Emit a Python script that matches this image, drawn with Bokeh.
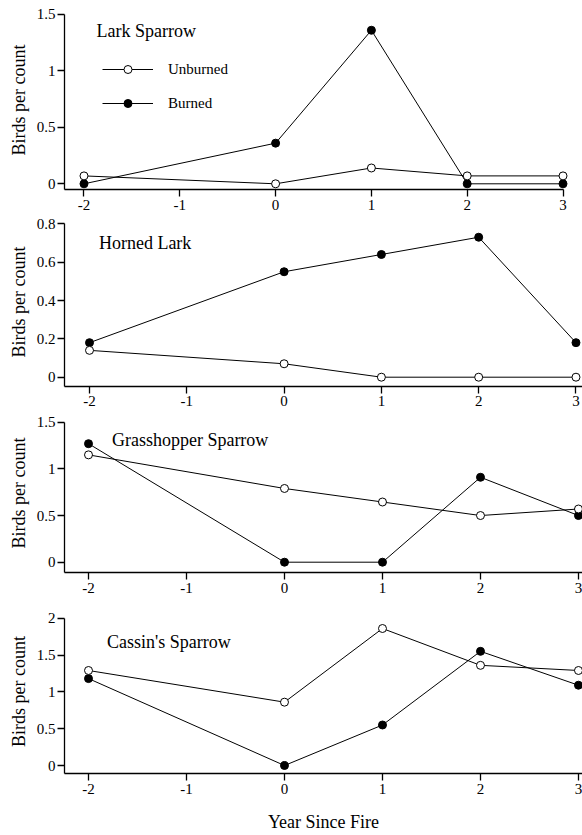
from bokeh.plotting import figure
from bokeh.layouts import column
from bokeh.models import Range1d, FixedTicker, NumeralTickFormatter, Label, Legend, LegendItem
from bokeh.embed import file_html
from bokeh.resources import INLINE

# ---- data ----
years = [-2, 0, 1, 2, 3]
x_ticks = [-2, -1, 0, 1, 2, 3]
species = ["Lark Sparrow", "Horned Lark", "Grasshopper Sparrow", "Cassin's Sparrow"]
lark_sparrow_unburned = [0.07, 0.0, 0.14, 0.07, 0.07]
lark_sparrow_burned = [0.0, 0.36, 1.36, 0.0, 0.0]
horned_lark_unburned = [0.14, 0.07, 0.0, 0.0, 0.0]
horned_lark_burned = [0.18, 0.55, 0.64, 0.73, 0.18]
grasshopper_unburned = [1.15, 0.79, 0.645, 0.5, 0.57]
grasshopper_burned = [1.27, 0.0, 0.0, 0.91, 0.50]
cassins_unburned = [1.29, 0.86, 1.86, 1.36, 1.29]
cassins_burned = [1.18, 0.0, 0.55, 1.55, 1.09]
y_ticks = [[0, 0.5, 1, 1.5], [0, 0.2, 0.4, 0.6, 0.8], [0, 0.5, 1, 1.5], [0, 0.5, 1, 1.5, 2]]
y_label = "Birds per count"
x_label = "Year Since Fire"
legend_labels = ["Unburned", "Burned"]

unburned = [lark_sparrow_unburned, horned_lark_unburned, grasshopper_unburned, cassins_unburned]
burned = [lark_sparrow_burned, horned_lark_burned, grasshopper_burned, cassins_burned]

# ---- layout/style per panel ----
FONT = "Liberation Serif"
heights = [217, 196, 196, 226]
borders_top = [10, 0, 0, 0]
borders_bottom = [28, 27, 37, 62]
x_standoff = [3, 2, 3, 3]
x_ranges = [(-2.2035, 3.2035), (-2.257, 3.067), (-2.245, 3.041), (-2.245, 3.041)]
y_ranges = [(-0.0505, 1.535), (-0.0485, 0.8329), (-0.1104, 1.5933), (-0.1086, 2.118)]
x_bound_end = [3, None, None, None]
title_pos = [(32, 159), (34.4, 143.3), (47.4, 132.4), (42.5, 131.3)]

panels = []
for i in range(4):
    xr = x_ranges[i]
    yr = y_ranges[i]
    p = figure(width=582, height=heights[i], output_backend="svg", toolbar_location=None,
               tools="", x_range=Range1d(*xr), y_range=Range1d(*yr),
               min_border_left=64, min_border_right=0,
               min_border_top=borders_top[i], min_border_bottom=borders_bottom[i])
    p.outline_line_color = None
    p.xgrid.visible = False
    p.ygrid.visible = False
    p.background_fill_color = "white"
    p.border_fill_color = "white"

    for ax in (p.xaxis[0], p.yaxis[0]):
        ax.axis_line_width = 1.3
        ax.axis_line_color = "black"
        ax.major_tick_line_width = 1.3
        ax.major_tick_line_color = "black"
        ax.major_tick_in = 0
        ax.major_tick_out = 7
        ax.minor_tick_line_color = None
        ax.major_label_text_font = FONT
        ax.major_label_text_font_size = "15px"
        ax.major_label_text_color = "black"
        ax.axis_label_text_font = FONT
        ax.axis_label_text_font_size = "18px"
        ax.axis_label_text_font_style = "normal"
        ax.axis_label_text_color = "black"

    xa = p.xaxis[0]
    xa.ticker = FixedTicker(ticks=x_ticks)
    xa.formatter = NumeralTickFormatter(format="0")
    xa.major_label_standoff = x_standoff[i]
    if x_bound_end[i] is not None:
        xa.bounds = (xr[0], x_bound_end[i])
    if i == 3:
        xa.axis_label = x_label
        xa.axis_label_standoff = 15

    ya = p.yaxis[0]
    ya.ticker = FixedTicker(ticks=y_ticks[i])
    ya.formatter = NumeralTickFormatter(format="0.[0]")
    ya.major_label_standoff = 2
    ya.bounds = (yr[0], y_ticks[i][-1])
    ya.axis_label = y_label
    ya.axis_label_standoff = 5

    bl = p.line(years, burned[i], line_color="black", line_width=1)
    ul = p.line(years, unburned[i], line_color="black", line_width=1)
    bs = p.scatter(years, burned[i], size=8, fill_color="black", line_color="black", line_width=1)
    us = p.scatter(years, unburned[i], size=8, fill_color="white", line_color="black", line_width=1)

    tx, ty = title_pos[i]
    p.add_layout(Label(x=tx, y=ty, x_units="screen", y_units="screen", text=species[i],
                       text_font=FONT, text_font_size="18px", text_baseline="middle",
                       text_color="black"))

    if i == 0:
        leg = Legend(items=[LegendItem(label=legend_labels[0], renderers=[ul, us]),
                            LegendItem(label=legend_labels[1], renderers=[bl, bs])],
                     location=(38, 76), padding=0, margin=0, spacing=14,
                     glyph_width=51, glyph_height=20, label_height=20, label_standoff=15,
                     label_text_font=FONT, label_text_font_size="15px",
                     label_text_color="black",
                     background_fill_alpha=0, border_line_alpha=0)
        p.add_layout(leg)
    panels.append(p)

layout = column(*panels)
open("out.html", "w").write(file_html(layout, INLINE))
